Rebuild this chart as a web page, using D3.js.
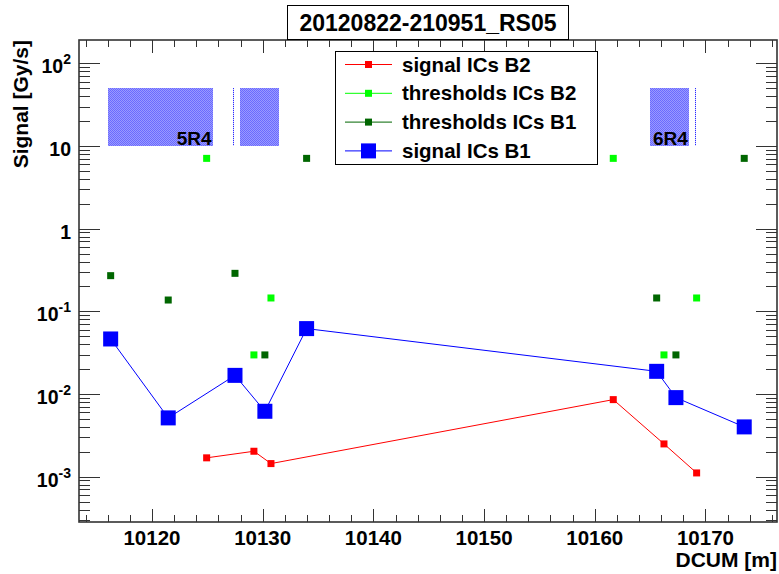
<!DOCTYPE html>
<html>
<head>
<meta charset="utf-8">
<title>20120822-210951_RS05</title>
<style>
body { margin: 0; background: #fff; }
svg text { font-family: "Liberation Sans", Arial, Helvetica, sans-serif; font-weight: bold; fill: #000; }
</style>
<script src="https://cdn.jsdelivr.net/npm/d3@7"></script>
</head>
<body>
<div id="chart"></div>
<script>
// ---- data ----
var titleText = "20120822-210951_RS05";

var dcumB1 = [10116.27, 10121.47, 10127.5, 10130.2, 10133.97, 10165.59, 10167.33, 10173.5];
var signalB1 = [0.0463, 0.00514, 0.0168, 0.00618, 0.0618, 0.0188, 0.00904, 0.0040];
var thresholdB1 = [0.270, 0.137, 0.288, 0.0297, 7.08, 0.145, 0.0297, 7.08];

var dcumB2 = [10124.94, 10129.21, 10130.75, 10161.67, 10166.25, 10169.2];
var signalB2 = [0.00169, 0.00203, 0.00144, 0.00855, 0.00249, 0.00111];
var thresholdB2 = [7.08, 0.0297, 0.145, 7.08, 0.0297, 0.145];

// magnet boxes (DCUM start/end) and their names
var magnetStart = [10116.03, 10127.95, 10164.97];
var magnetEnd = [10125.48, 10131.45, 10168.5];
var magnetName = ["5R4", "", "6R4"];
var magnetMarks = [10127.34, 10169.05];
var magnetLow = 10, magnetHigh = 50;

var xMajorTicks = [10120, 10130, 10140, 10150, 10160, 10170];
var yMajorTicks = [1e-3, 1e-2, 1e-1, 1, 10, 100];
var yTickBase = ["10", "10", "10", "1", "10", "10"];
var yTickExp = ["-3", "-2", "-1", "", "", "2"];

var legendNames = ["signal ICs B2", "thresholds ICs B2", "thresholds ICs B1", "signal ICs B1"];

// ---- layout ----
var width = 779, height = 574;
var frame = {left: 79, right: 777, top: 40, bottom: 522};

var svg = d3.select("#chart").append("svg")
    .attr("width", width)
    .attr("height", height);

var x = d3.scaleLinear()
    .domain([10113.41, 10176.46])
    .range([frame.left, frame.right]);

var y = d3.scaleLog()
    .domain([2.83e-4, 191.3])
    .range([frame.bottom, frame.top]);

// soft dotted fill for magnets
var defs = svg.append("defs");
var pat = defs.append("pattern")
    .attr("id", "hatch")
    .attr("width", 2).attr("height", 2)
    .attr("patternUnits", "userSpaceOnUse");
pat.append("rect").attr("width", 2).attr("height", 2).attr("fill", "#9a9aff");
pat.append("rect").attr("x", 0).attr("y", 0).attr("width", 1).attr("height", 1).attr("fill", "#6a6aff");
pat.append("rect").attr("x", 1).attr("y", 1).attr("width", 1).attr("height", 1).attr("fill", "#6a6aff");

var plot = svg.append("g");

// magnets
magnetStart.forEach(function(s, i) {
    var x0 = Math.round(x(s)), x1 = Math.round(x(magnetEnd[i]));
    var y0 = Math.round(y(magnetHigh)), y1 = Math.round(y(magnetLow));
    plot.append("rect")
        .attr("x", x0)
        .attr("y", y0)
        .attr("width", x1 - x0)
        .attr("height", y1 - y0)
        .attr("fill", "url(#hatch)");
    if (magnetName[i]) {
        plot.append("text")
            .attr("x", x(magnetEnd[i]) - 1)
            .attr("y", y(magnetLow) - 1)
            .attr("text-anchor", "end")
            .style("font-size", "19px")
            .text(magnetName[i]);
    }
});
magnetMarks.forEach(function(m) {
    plot.append("line")
        .attr("x1", Math.round(x(m)) + 0.5).attr("x2", Math.round(x(m)) + 0.5)
        .attr("y1", y(magnetHigh)).attr("y2", y(magnetLow))
        .attr("stroke", "#0000ff")
        .attr("stroke-dasharray", "1,1");
});

// ---- frame and ticks ----
var axisG = svg.append("g").attr("stroke", "#333");

function tick(x1, y1, x2, y2) {
    axisG.append("line")
        .attr("x1", x1).attr("y1", y1).attr("x2", x2).attr("y2", y2)
        .attr("stroke-width", 1);
}

var xMinor = d3.range(10114, 10177, 2).filter(function(v) { return v % 10 !== 0; });
xMinor.forEach(function(v) {
    var px = Math.round(x(v)) + 0.5;
    tick(px, frame.bottom, px, frame.bottom - 7);
    tick(px, frame.top, px, frame.top + 7);
});
xMajorTicks.forEach(function(v) {
    var px = Math.round(x(v)) + 0.5;
    tick(px, frame.bottom, px, frame.bottom - 13);
    tick(px, frame.top, px, frame.top + 13);
});

var yMinor = [];
[1e-4, 1e-3, 1e-2, 1e-1, 1, 10, 100].forEach(function(d) {
    for (var k = 2; k <= 9; k++) {
        var v = d * k;
        if (v >= y.domain()[0] && v <= y.domain()[1]) yMinor.push(v);
    }
});
yMinor.forEach(function(v) {
    var py = Math.round(y(v)) + 0.5;
    tick(frame.left, py, frame.left + 11, py);
    tick(frame.right, py, frame.right - 11, py);
});
yMajorTicks.forEach(function(v) {
    var py = Math.round(y(v)) + 0.5;
    tick(frame.left, py, frame.left + 21, py);
    tick(frame.right, py, frame.right - 21, py);
});

axisG.append("rect")
    .attr("x", frame.left).attr("y", frame.top)
    .attr("width", frame.right - frame.left)
    .attr("height", frame.bottom - frame.top)
    .attr("fill", "none")
    .attr("stroke-width", 1.6);

// tick labels
xMajorTicks.forEach(function(v) {
    svg.append("text")
        .attr("x", x(v))
        .attr("y", 545)
        .attr("text-anchor", "middle")
        .style("font-size", "20.5px")
        .text(v);
});
yMajorTicks.forEach(function(v, i) {
    var t = svg.append("text")
        .attr("x", 71)
        .attr("y", y(v) + 10)
        .attr("text-anchor", "end")
        .style("font-size", "19.5px");
    t.append("tspan").text(yTickBase[i]);
    if (yTickExp[i]) {
        t.append("tspan")
            .attr("dy", -9)
            .style("font-size", "14px")
            .text(yTickExp[i]);
    }
});

// axis titles
svg.append("text")
    .attr("x", 777)
    .attr("y", 567)
    .attr("text-anchor", "end")
    .style("font-size", "21px")
    .text("DCUM [m]");

svg.append("text")
    .attr("transform", "translate(28,40) rotate(-90)")
    .attr("text-anchor", "end")
    .style("font-size", "21px")
    .text("Signal [Gy/s]");

// ---- series ----
var lineGen = d3.line()
    .x(function(d) { return x(d[0]); })
    .y(function(d) { return y(d[1]); });

var b2 = d3.zip(dcumB2, signalB2);
var b1 = d3.zip(dcumB1, signalB1);
var tb2 = d3.zip(dcumB2, thresholdB2);
var tb1 = d3.zip(dcumB1, thresholdB1);

plot.append("path").datum(b2)
    .attr("d", lineGen).attr("fill", "none").attr("stroke", "#ff0000").attr("stroke-width", 1);
plot.append("path").datum(b1)
    .attr("d", lineGen).attr("fill", "none").attr("stroke", "#0000ff").attr("stroke-width", 1);

function squares(data, size, color) {
    plot.selectAll(null).data(data).enter()
        .append("rect")
        .attr("x", function(d) { return x(d[0]) - size / 2; })
        .attr("y", function(d) { return y(d[1]) - size / 2; })
        .attr("width", size).attr("height", size)
        .attr("fill", color);
}
squares(tb2, 7, "#00ff00");
squares(tb1, 7, "#006600");
squares(b2, 7, "#ff0000");
squares(b1, 15, "#0000ff");

// ---- title box ----
svg.append("rect")
    .attr("x", 287.5).attr("y", 5.5)
    .attr("width", 281).attr("height", 34)
    .attr("fill", "#fff").attr("stroke", "#000");
svg.append("text")
    .attr("x", 428)
    .attr("y", 31)
    .attr("text-anchor", "middle")
    .style("font-size", "23px")
    .text(titleText);

// ---- legend ----
var legendColors = ["#ff0000", "#00ff00", "#006600", "#0000ff"];
var legendSizes = [7, 7, 7, 15];
var leg = svg.append("g");
leg.append("rect")
    .attr("x", 335.5).attr("y", 51.5)
    .attr("width", 262).attr("height", 113)
    .attr("fill", "#fff").attr("stroke", "#000");
legendNames.forEach(function(name, i) {
    var ly = 64.5 + i * 28.8;
    leg.append("line")
        .attr("x1", 345).attr("x2", 392)
        .attr("y1", ly).attr("y2", ly)
        .attr("stroke", legendColors[i]);
    leg.append("rect")
        .attr("x", 368.5 - legendSizes[i] / 2)
        .attr("y", ly - legendSizes[i] / 2)
        .attr("width", legendSizes[i]).attr("height", legendSizes[i])
        .attr("fill", legendColors[i]);
    leg.append("text")
        .attr("x", 402)
        .attr("y", ly + 7)
        .style("font-size", "20.5px")
        .text(name);
});
</script>
</body>
</html>
